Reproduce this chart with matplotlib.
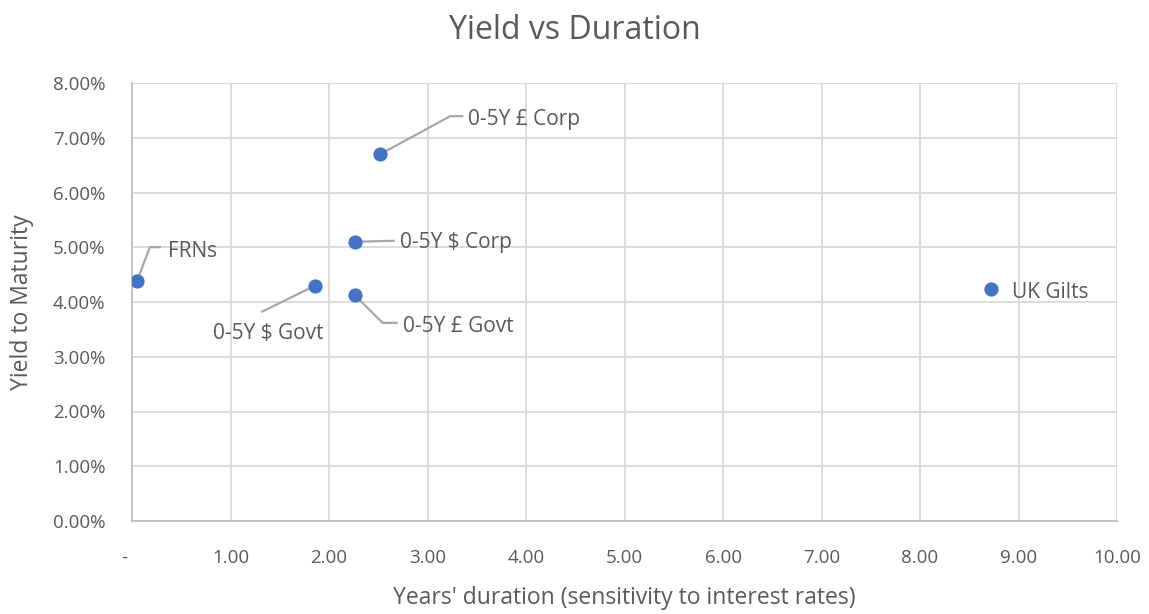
import matplotlib
matplotlib.use("Agg")
import matplotlib.pyplot as plt
from matplotlib.ticker import FuncFormatter, MultipleLocator

# data
names = ["FRNs", "0-5Y $ Govt", "0-5Y £ Govt", "0-5Y $ Corp", "0-5Y £ Corp", "UK Gilts"]
duration = [0.05, 1.86, 2.26, 2.26, 2.52, 8.72]
ytm = [4.38, 4.30, 4.13, 5.10, 6.70, 4.23]

# label placement: text offset in pixels (dx, dy up), alignment, leader elbow points
label_style = {
    "FRNs":        dict(off=(31, 30), ha="left", leader=[(0, 0), (13, 34), (23, 34)]),
    "0-5Y $ Govt": dict(off=(8, -48), ha="right", leader=[(0, 0), (-53, -26)]),
    "0-5Y £ Govt": dict(off=(48, -32), ha="left", leader=[(0, 0), (28, -28), (42, -28)]),
    "0-5Y $ Corp": dict(off=(45, -1), ha="left", leader=[(0, 0), (39, 1)]),
    "0-5Y £ Corp": dict(off=(88, 35), ha="left", leader=[(0, 0), (70, 38), (82, 38)]),
    "UK Gilts":    dict(off=(21, -3), ha="left", leader=None),
}

text_col = "#595959"
plt.rcParams["font.family"] = ["Open Sans", "DejaVu Sans"]

fig = plt.figure(figsize=(11.49, 6.14), dpi=100)
ax = fig.add_axes([132 / 1149, 1 - 521 / 614, (1117 - 132) / 1149, (521 - 83) / 614])

ax.scatter(duration, ytm, s=105, color="#4472C4", zorder=3, linewidths=0)

ax.set_xlim(0, 10)
ax.set_ylim(0, 8)
ax.xaxis.set_major_locator(MultipleLocator(1))
ax.yaxis.set_major_locator(MultipleLocator(1))
ax.xaxis.set_major_formatter(FuncFormatter(lambda v, p: "-   " if v == 0 else f"{v:.2f}"))
ax.yaxis.set_major_formatter(FuncFormatter(lambda v, p: f"{v:.2f}%"))
ax.grid(True, color="#d9d9d9", linewidth=1.3)
ax.set_axisbelow(True)
for side in ["top", "right"]:
    ax.spines[side].set_visible(False)
for side in ["left", "bottom"]:
    ax.spines[side].set_color("#bfbfbf")
    ax.spines[side].set_linewidth(1.3)
ax.tick_params(length=0, labelsize=13.5, labelcolor=text_col)
ax.tick_params(axis="y", pad=19)
ax.tick_params(axis="x", pad=20)

ax.set_xlabel("Years' duration (sensitivity to interest rates)", fontsize=16.5, color=text_col, labelpad=14)
ax.set_ylabel("Yield to Maturity", fontsize=16.5, color=text_col, labelpad=14)
fig.suptitle("Yield vs Duration", fontsize=23, color=text_col, y=0.978)

# data labels with leader lines
inv = ax.transData.inverted()
for name, x, y in zip(names, duration, ytm):
    st = label_style[name]
    px, py = ax.transData.transform((x, y))
    ax.annotate(name, (x, y), xytext=st["off"], textcoords="offset pixels",
                ha=st["ha"], va="center", fontsize=15, color=text_col)
    if st["leader"]:
        pts = inv.transform([(px + dx, py + dy) for dx, dy in st["leader"]])
        ax.plot(pts[:, 0], pts[:, 1], color="#a6a6a6", linewidth=1.6, zorder=2, clip_on=False)

fig.savefig("out.png", dpi=100)
